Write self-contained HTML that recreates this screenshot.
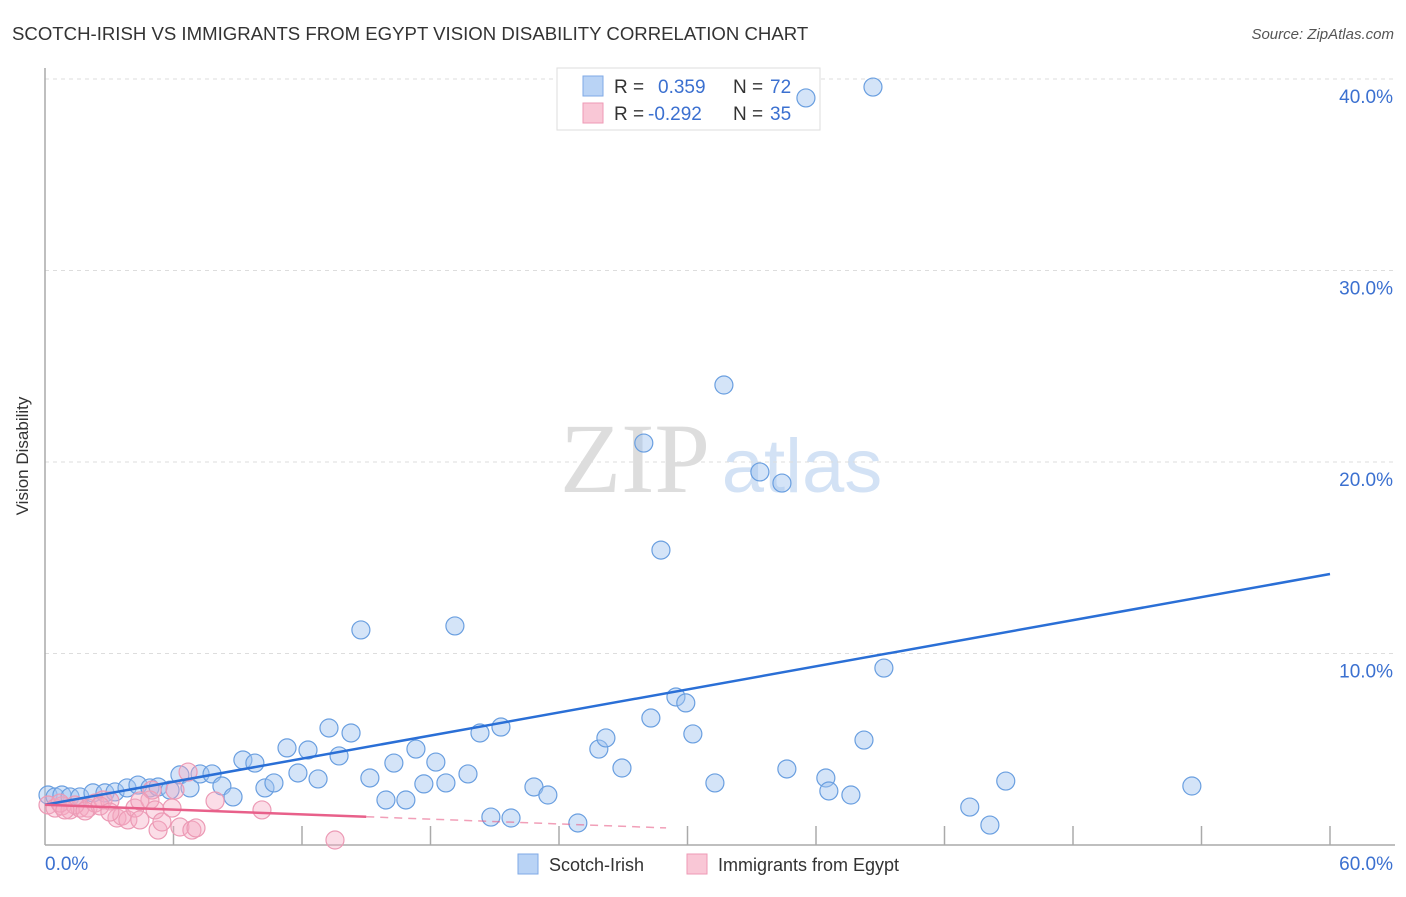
<!DOCTYPE html>
<html><head><meta charset="utf-8"><style>
body{margin:0;background:#fff;font-family:"Liberation Sans",sans-serif;}
svg text{font-family:"Liberation Sans",sans-serif;}
</style></head><body>
<svg id="chart" width="1406" height="892" xmlns="http://www.w3.org/2000/svg">
<text x="12" y="40" font-size="18.6" fill="#333">SCOTCH-IRISH VS IMMIGRANTS FROM EGYPT VISION DISABILITY CORRELATION CHART</text>
<text x="1394" y="39" font-size="15" fill="#555" text-anchor="end" font-style="italic">Source: ZipAtlas.com</text>
<text x="28" y="456" font-size="17" fill="#333" text-anchor="middle" transform="rotate(-90 28 456)">Vision Disability</text>
<g>
<text x="635" y="492" font-size="100" fill="#ddd" text-anchor="middle" style="font-family:'Liberation Serif',serif">ZIP</text>
<text x="802" y="492" font-size="76" fill="#d3e2f5" text-anchor="middle">atlas</text>
</g>
<g id="grid"></g><g id="axes"></g>
<g>
<rect x="557" y="68" width="263" height="62" fill="#fff" stroke="#ddd"/>
<rect x="583" y="76" width="20" height="20" fill="#b9d3f5" stroke="#7fa9e6"/>
<rect x="583" y="103" width="20" height="20" fill="#f9c7d6" stroke="#ee9ab5"/>
<text x="614" y="93" font-size="19" fill="#333">R =</text><text x="658" y="93" font-size="19" fill="#3b70d0">0.359</text>
<text x="733" y="93" font-size="19" fill="#333">N =</text><text x="770" y="93" font-size="19" fill="#3b70d0">72</text>
<text x="614" y="120" font-size="19" fill="#333">R =</text><text x="648" y="120" font-size="19" fill="#3b70d0">-0.292</text>
<text x="733" y="120" font-size="19" fill="#333">N =</text><text x="770" y="120" font-size="19" fill="#3b70d0">35</text>
</g>
<g id="pts"></g><g id="lines"></g>
<g>
<rect x="518" y="854" width="20" height="20" fill="#b9d3f5" stroke="#7fa9e6"/>
<text x="549" y="871" font-size="18" fill="#333">Scotch-Irish</text>
<rect x="687" y="854" width="20" height="20" fill="#f9c7d6" stroke="#ee9ab5"/>
<text x="718" y="871" font-size="18" fill="#333">Immigrants from Egypt</text>
</g>
</svg>
<script>
const blueX=[0.14,0.47,0.79,1.17,1.63,2.24,2.80,3.27,3.83,4.34,4.90,5.28,5.84,6.30,6.77,7.24,7.80,8.26,8.78,9.24,9.80,10.27,10.69,11.30,11.81,12.28,12.75,13.26,13.73,14.29,14.75,15.17,15.92,16.29,16.85,17.32,17.69,18.25,18.72,19.14,19.75,20.31,20.82,21.29,21.76,22.83,23.48,24.88,25.86,26.19,26.94,27.96,28.29,28.76,29.46,29.92,30.25,31.28,31.70,33.38,34.41,34.64,35.53,36.46,36.60,37.63,38.24,38.66,39.17,43.18,44.12,44.86,53.55];
const blueY=[2.61,2.51,2.61,2.51,2.51,2.72,2.72,2.77,2.98,3.13,2.98,3.03,2.87,3.66,2.98,3.71,3.71,3.08,2.51,4.44,4.28,2.98,3.24,5.07,3.76,4.96,3.45,6.11,4.65,5.85,11.23,3.50,2.35,4.28,2.35,5.01,3.19,4.33,3.24,11.44,3.71,5.85,1.46,6.16,1.41,3.03,2.61,1.15,5.01,5.59,4.02,20.99,6.63,15.40,7.73,7.42,5.80,3.24,24.02,19.48,18.90,3.97,39.01,3.50,2.82,2.61,5.48,39.58,9.24,1.98,1.04,3.34,3.08];
const pinkX=[0.14,0.47,0.79,1.17,1.63,2.01,2.33,2.71,3.03,3.36,3.59,3.87,4.20,4.43,4.90,5.14,5.28,5.46,5.93,6.30,6.68,6.86,7.05,7.94,10.13,13.54,0.70,1.40,2.57,1.87,0.93,6.07,5.00,4.43,3.03];
const pinkY=[2.09,1.93,2.04,1.83,1.93,1.93,2.19,2.35,2.30,1.41,1.51,1.31,1.93,1.31,2.35,1.83,0.78,1.20,1.93,0.94,3.81,0.78,0.89,2.30,1.83,0.26,2.19,2.09,2.04,1.78,1.83,2.87,2.87,2.30,1.72];
const yTicks=[10,20,30,40];
const yTickLabels=["10.0%","20.0%","30.0%","40.0%"];
const xTicks=[6,12,18,24,30,36,42,48,54,60];
const blueTrend=[2.1,14.15];
const pinkTrend=[2.1,-0.4];
const NS="http://www.w3.org/2000/svg";
const X=v=>45+v*(1285/60), Y=v=>845-v*19.15;
function mk(t,a,p){const e=document.createElementNS(NS,t);for(const k in a)e.setAttribute(k,a[k]);document.getElementById(p).appendChild(e);return e;}
yTicks.forEach((t,i)=>{
 const l=mk('line',{x1:45,x2:1395,y1:Y(t),y2:Y(t),stroke:'#ddd','stroke-dasharray':'4,4'},'grid');
 
 
 const tx=mk('text',{x:1393,y:Y(t)+24,'font-size':19,fill:'#3b70d0','text-anchor':'end'},'grid');tx.textContent=yTickLabels[i];
 
 
});
mk('line',{x1:45,x2:45,y1:68,y2:845,stroke:'#aaa','stroke-width':1.5},'axes');
mk('line',{x1:45,x2:1395,y1:845,y2:845,stroke:'#aaa','stroke-width':1.5},'axes');
xTicks.forEach(t=>{const l=mk('line',{x1:X(t),x2:X(t),y1:826,y2:845,stroke:'#aaa','stroke-width':1.5},'axes');
 
 });
let a=mk('text',{x:45,y:870,'font-size':19,fill:'#3b70d0'},'axes');a.textContent='0.0%';


a=mk('text',{x:1393,y:870,'font-size':19,fill:'#3b70d0','text-anchor':'end'},'axes');a.textContent='60.0%';


blueX.forEach((v,i)=>{const c=mk('circle',{cx:X(v),cy:Y(blueY[i]),r:9,fill:'rgba(160,195,240,0.45)',stroke:'#6a9fe0','stroke-width':1.2},'pts');
 
 });
pinkX.forEach((v,i)=>{const c=mk('circle',{cx:X(v),cy:Y(pinkY[i]),r:9,fill:'rgba(245,170,195,0.4)',stroke:'#ec9ab5','stroke-width':1.2},'pts');
 
 });
let bl=mk('line',{x1:X(0),y1:Y(blueTrend[0]),x2:X(60),y2:Y(blueTrend[1]),stroke:'#2a6fd6','stroke-width':2.5},'lines');


const pAt=x=>pinkTrend[0]+(pinkTrend[1]-pinkTrend[0])*x/60;
let pl=mk('line',{x1:X(0),y1:Y(pAt(0)),x2:X(15),y2:Y(pAt(15)),stroke:'#e8608a','stroke-width':2.5},'lines');


let pd=mk('line',{x1:X(15),y1:Y(pAt(15)),x2:X(29),y2:Y(pAt(29)),stroke:'#e8608a','stroke-width':1.5,'stroke-dasharray':'8,6','opacity':0.6},'lines');


</script>
</body></html>
